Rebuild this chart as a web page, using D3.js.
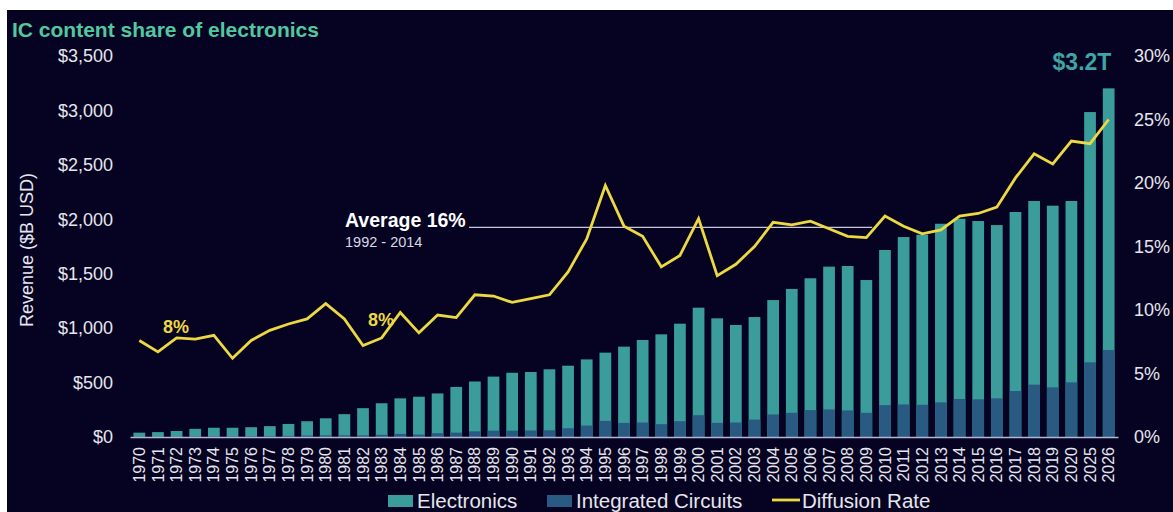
<!DOCTYPE html>
<html>
<head>
<meta charset="utf-8">
<script src="https://cdn.jsdelivr.net/npm/d3@7"></script>
<style>
  body { margin: 0; background: #fff; }
  svg { display: block; font-family: "Liberation Sans", Arial, sans-serif; }
</style>
</head>
<body>
<div id="chart"></div>
<script>
const years = ['1970','1971','1972','1973','1974','1975','1976','1977','1978','1979',
  '1980','1981','1982','1983','1984','1985','1986','1987','1988','1989',
  '1990','1991','1992','1993','1994','1995','1996','1997','1998','1999',
  '2000','2001','2002','2003','2004','2005','2006','2007','2008','2009',
  '2010','2011','2012','2013','2014','2015','2016','2017','2018','2019',
  '2020','2025','2026'];

// revenue, $B USD
const electronics = [40, 45, 55, 75, 85, 85, 90, 100, 120, 145,
  172, 210, 265, 310, 355, 370, 400, 460, 510, 555,
  590, 597, 622, 655, 713, 775, 830, 891, 943, 1041,
  1188, 1090, 1029, 1102, 1258, 1360, 1458, 1565, 1571, 1442,
  1718, 1837, 1858, 1959, 2005, 1984, 1947, 2067, 2168, 2125,
  2168, 2985, 3203];

const integratedCircuits = [2, 2, 3, 5, 6, 5, 7, 8, 10, 13,
  15, 15, 15, 20, 28, 22, 35, 40, 52, 58,
  58, 60, 62, 80, 105, 148, 130, 133, 118, 145,
  200, 130, 133, 160, 207, 222, 247, 253, 244, 222,
  293, 299, 296, 318, 349, 346, 355, 422, 481, 456,
  502, 686, 799];

// diffusion rate, %
const diffusion = [7.6, 6.7, 7.8, 7.7, 8.0, 6.2, 7.6, 8.4, 8.9, 9.3,
  10.5, 9.3, 7.2, 7.8, 9.8, 8.2, 9.6, 9.4, 11.2, 11.1,
  10.6, 10.9, 11.2, 13.0, 15.6, 19.8, 16.6, 15.8, 13.4, 14.3,
  17.2, 12.7, 13.6, 15.0, 16.9, 16.7, 17.0, 16.4, 15.8, 15.7,
  17.4, 16.6, 16.0, 16.3, 17.4, 17.6, 18.1, 20.4, 22.3, 21.5,
  23.3, 23.1, 25.0];

const revenueTicks = [0, 500, 1000, 1500, 2000, 2500, 3000, 3500];
const rateTicks = [0, 5, 10, 15, 20, 25, 30];
const averageRate = 16.5;

const W = 1173, H = 512;
const colors = {
  bg: '#060322',
  electronics: '#3a9c9b',
  ic: '#285a82',
  line: '#ecd843',
  title: '#52c8a0',
  text: '#e6e6ee',
  axis: '#b4b4d4'
};

const svg = d3.select('#chart').append('svg')
  .attr('width', W)
  .attr('height', H);

svg.append('rect')
  .attr('x', 7).attr('y', 10)
  .attr('width', W - 7).attr('height', H - 10)
  .attr('fill', colors.bg);

const x = d3.scaleBand()
  .domain(years)
  .range([130, 1118])
  .paddingInner(0.37)
  .paddingOuter(0.185);

const yL = d3.scaleLinear().domain([0, 3500]).range([437, 56]);
const yR = d3.scaleLinear().domain([0, 30]).range([437, 56]);

// title
svg.append('text')
  .attr('x', 12).attr('y', 37)
  .attr('fill', colors.title)
  .attr('font-size', 21)
  .attr('font-weight', 'bold')
  .text('IC content share of electronics');

// left axis
const leftAxis = svg.append('g')
  .attr('transform', 'translate(119,0)')
  .call(d3.axisLeft(yL).tickValues(revenueTicks).tickSize(0).tickPadding(6)
    .tickFormat(d => '$' + d3.format(',')(d)));
leftAxis.select('.domain').remove();
leftAxis.selectAll('text')
  .attr('fill', colors.text)
  .attr('font-size', 18)
  .attr('font-family', '"Liberation Sans", Arial, sans-serif');

// right axis
const rightAxis = svg.append('g')
  .attr('transform', 'translate(1118,0)')
  .call(d3.axisRight(yR).tickValues(rateTicks).tickSize(0).tickPadding(16)
    .tickFormat(d => d + '%'));
rightAxis.select('.domain').remove();
rightAxis.selectAll('text')
  .attr('fill', colors.text)
  .attr('font-size', 18)
  .attr('font-family', '"Liberation Sans", Arial, sans-serif');

// y title
svg.append('text')
  .attr('transform', 'translate(27,250) rotate(-90)')
  .attr('text-anchor', 'middle')
  .attr('dy', '0.35em')
  .attr('fill', colors.text)
  .attr('font-size', 18)
  .text('Revenue ($B USD)');

// bars
const bars = svg.append('g');
bars.selectAll('.bar-e')
  .data(years)
  .enter().append('rect')
  .attr('class', 'bar-e')
  .attr('x', d => x(d))
  .attr('width', x.bandwidth())
  .attr('y', (d, i) => yL(electronics[i]))
  .attr('height', (d, i) => yL(0) - yL(electronics[i]))
  .attr('fill', colors.electronics);

bars.selectAll('.bar-ic')
  .data(years)
  .enter().append('rect')
  .attr('class', 'bar-ic')
  .attr('x', d => x(d))
  .attr('width', x.bandwidth())
  .attr('y', (d, i) => yL(integratedCircuits[i]))
  .attr('height', (d, i) => yL(0) - yL(integratedCircuits[i]))
  .attr('fill', colors.ic);

// x axis
const bottomAxis = svg.append('g')
  .attr('transform', 'translate(0,437)')
  .call(d3.axisBottom(x).tickSize(0).tickSizeOuter(0).tickPadding(0));
bottomAxis.select('.domain')
  .attr('stroke', colors.axis)
  .attr('stroke-width', 1.5);
bottomAxis.selectAll('text')
  .attr('transform', 'translate(0,10) rotate(-90)')
  .attr('text-anchor', 'end')
  .attr('dy', '0.35em')
  .attr('y', 0)
  .attr('fill', colors.text)
  .attr('font-size', 16)
  .attr('font-family', '"Liberation Sans", Arial, sans-serif');

// average annotation
svg.append('line')
  .attr('x1', x('1988')).attr('x2', x('2009') + x.bandwidth())
  .attr('y1', yR(averageRate)).attr('y2', yR(averageRate))
  .attr('stroke', '#c8c8dc')
  .attr('stroke-width', 1.2);

svg.append('text')
  .attr('x', 345).attr('y', 227)
  .attr('fill', '#ffffff')
  .attr('font-size', 19.5)
  .attr('font-weight', 'bold')
  .text('Average 16%');

svg.append('text')
  .attr('x', 345).attr('y', 247)
  .attr('fill', '#d8d8e2')
  .attr('font-size', 14.5)
  .text('1992 - 2014');

// diffusion line
const line = d3.line()
  .x((d, i) => x(years[i]) + x.bandwidth() / 2)
  .y(d => yR(d));

svg.append('path')
  .datum(diffusion)
  .attr('d', line)
  .attr('fill', 'none')
  .attr('stroke', colors.line)
  .attr('stroke-width', 2.8)
  .attr('stroke-linejoin', 'miter');

// 8% labels
[[163, 333], [368, 326]].forEach(([lx, ly]) => {
  svg.append('text')
    .attr('x', lx).attr('y', ly)
    .attr('fill', colors.line)
    .attr('font-size', 18)
    .attr('font-weight', 'bold')
    .text('8%');
});

// $3.2T
svg.append('text')
  .attr('x', 1082).attr('y', 70)
  .attr('text-anchor', 'middle')
  .attr('fill', '#3ea4a4')
  .attr('font-size', 23)
  .attr('font-weight', 'bold')
  .text('$3.2T');

// legend
const legend = svg.append('g').attr('font-size', 20.5).attr('fill', colors.text);
legend.append('rect').attr('x', 388).attr('y', 495).attr('width', 25).attr('height', 12)
  .attr('fill', colors.electronics);
legend.append('text').attr('x', 417).attr('y', 508).text('Electronics');
legend.append('rect').attr('x', 547).attr('y', 495).attr('width', 25).attr('height', 12)
  .attr('fill', colors.ic);
legend.append('text').attr('x', 576).attr('y', 508).text('Integrated Circuits');
legend.append('line').attr('x1', 772).attr('x2', 800).attr('y1', 500).attr('y2', 500)
  .attr('stroke', colors.line).attr('stroke-width', 2.8);
legend.append('text').attr('x', 802).attr('y', 508).text('Diffusion Rate');
</script>
</body>
</html>
